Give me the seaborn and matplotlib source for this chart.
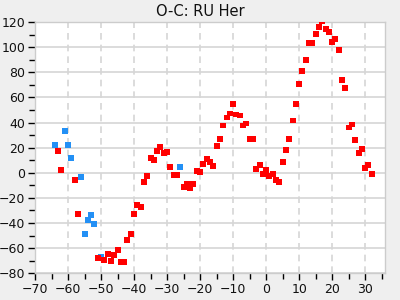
import matplotlib
matplotlib.use("Agg")
import matplotlib.pyplot as plt
from matplotlib.ticker import MultipleLocator
import seaborn as sns
import pandas as pd

red_x = [-63.0, -62.1, -57.9, -57.0, -50.9, -49.1, -47.9, -47.0, -46.1, -44.8, -43.9, -43.0,
         -42.1, -40.9, -40.0, -39.1, -37.9, -37.0, -36.1, -34.8, -33.9, -33.0, -32.1, -30.9,
         -30.0, -29.1, -27.9, -27.0, -24.8, -23.9, -23.0, -22.1, -20.9, -20.0, -19.1, -17.9,
         -17.0, -16.1, -14.8, -13.9, -13.0, -11.8, -10.9, -10.0, -9.1, -7.9, -7.0, -6.1,
         -4.8, -3.9, -3.0, -1.8, -0.9, 0.0, 0.9, 2.1, 3.0, 3.9, 5.2, 6.1, 7.0, 8.2, 9.1,
         10.0, 10.9, 12.1, 13.0, 13.9, 15.2, 16.1, 17.0, 18.2, 19.1, 20.0, 20.9, 22.1,
         23.0, 23.9, 25.2, 26.1, 27.0, 28.2, 29.1, 30.0, 30.9, 32.1]
red_y = [17.6, 2.4, -5.6, -32.8, -68.0, -69.6, -64.8, -70.4, -65.6, -61.6, -71.2, -71.2,
         -53.6, -48.8, -32.8, -25.6, -27.2, -7.2, -2.4, 12.0, 10.4, 17.6, 20.8, 16.0,
         16.8, 4.8, -1.6, -1.6, -11.2, -8.8, -12.0, -8.8, 1.6, 0.8, 7.2, 11.2,
         8.8, 5.6, 21.6, 27.2, 37.6, 44.0, 47.2, 54.4, 46.4, 45.6, 37.6, 39.2,
         27.2, 27.2, 3.2, 6.4, -0.8, 2.4, -2.4, -0.8, -5.6, -7.2, 8.8, 18.4, 27.2, 41.6, 54.4,
         70.4, 80.8, 89.6, 103.2, 103.2, 110.4, 116.0, 120.5, 114.4, 112.0, 104.0, 106.4, 97.6,
         73.6, 67.2, 36.0, 38.4, 26.4, 16.0, 19.2, 4.0, 6.4, -0.8]
blue_x = [-63.9, -60.9, -60.0, -59.1, -56.1, -54.8, -53.9, -53.0, -52.1, -50.0, -26.1]
blue_y = [22.4, 33.6, 22.4, 12.0, -3.2, -48.8, -37.6, -33.6, -40.8, -67.2, 4.8]

df = pd.DataFrame({
    "x": blue_x + red_x,
    "y": blue_y + red_y,
    "g": ["b"] * len(blue_x) + ["r"] * len(red_x),
})

sns.set_style("white")
plt.rcParams["font.family"] = ["DejaVu Sans"]
plt.rcParams["axes.grid"] = True

fig = plt.figure(figsize=(4, 3), dpi=100, facecolor="#efefef")
ax = fig.add_axes([0.088, 0.089, 0.8745, 0.8377])
ax.set_facecolor("white")

sns.scatterplot(data=df, x="x", y="y", hue="g", palette={"b": "#2390f5", "r": "#ff0000"},
                marker="s", s=18, linewidth=0, legend=False, ax=ax, zorder=3)

ax.set_xlim(-70, 36)
ax.set_ylim(-80, 120)
ax.xaxis.set_major_locator(MultipleLocator(10))
ax.xaxis.set_minor_locator(MultipleLocator(5))
ax.yaxis.set_major_locator(MultipleLocator(20))
ax.yaxis.set_minor_locator(MultipleLocator(10))
ax.set_axisbelow(True)
ax.yaxis.grid(True, which="major", color="#d6d6d6", linestyle="-", linewidth=1.2)
ax.xaxis.grid(True, which="major", color="#d6d6d6", linestyle=(0, (4, 3)), linewidth=1.2)
ax.xaxis.grid(False, which="minor")
ax.yaxis.grid(False, which="minor")
ax.set_xlabel("")
ax.set_ylabel("")
for sp in ax.spines.values():
    sp.set_color("#cccccc")
    sp.set_linewidth(1)
ax.tick_params(which="major", direction="out", length=5, width=1, color="black",
               labelsize=9, labelcolor="#111111", pad=2, left=True, bottom=True)
ax.tick_params(which="minor", direction="out", length=4, width=1, color="black",
               left=True, bottom=True)
fig.suptitle("O-C: RU Her", y=0.985, fontsize=10.5, color="#111111")

fig.savefig("out.png", dpi=100, facecolor=fig.get_facecolor())
